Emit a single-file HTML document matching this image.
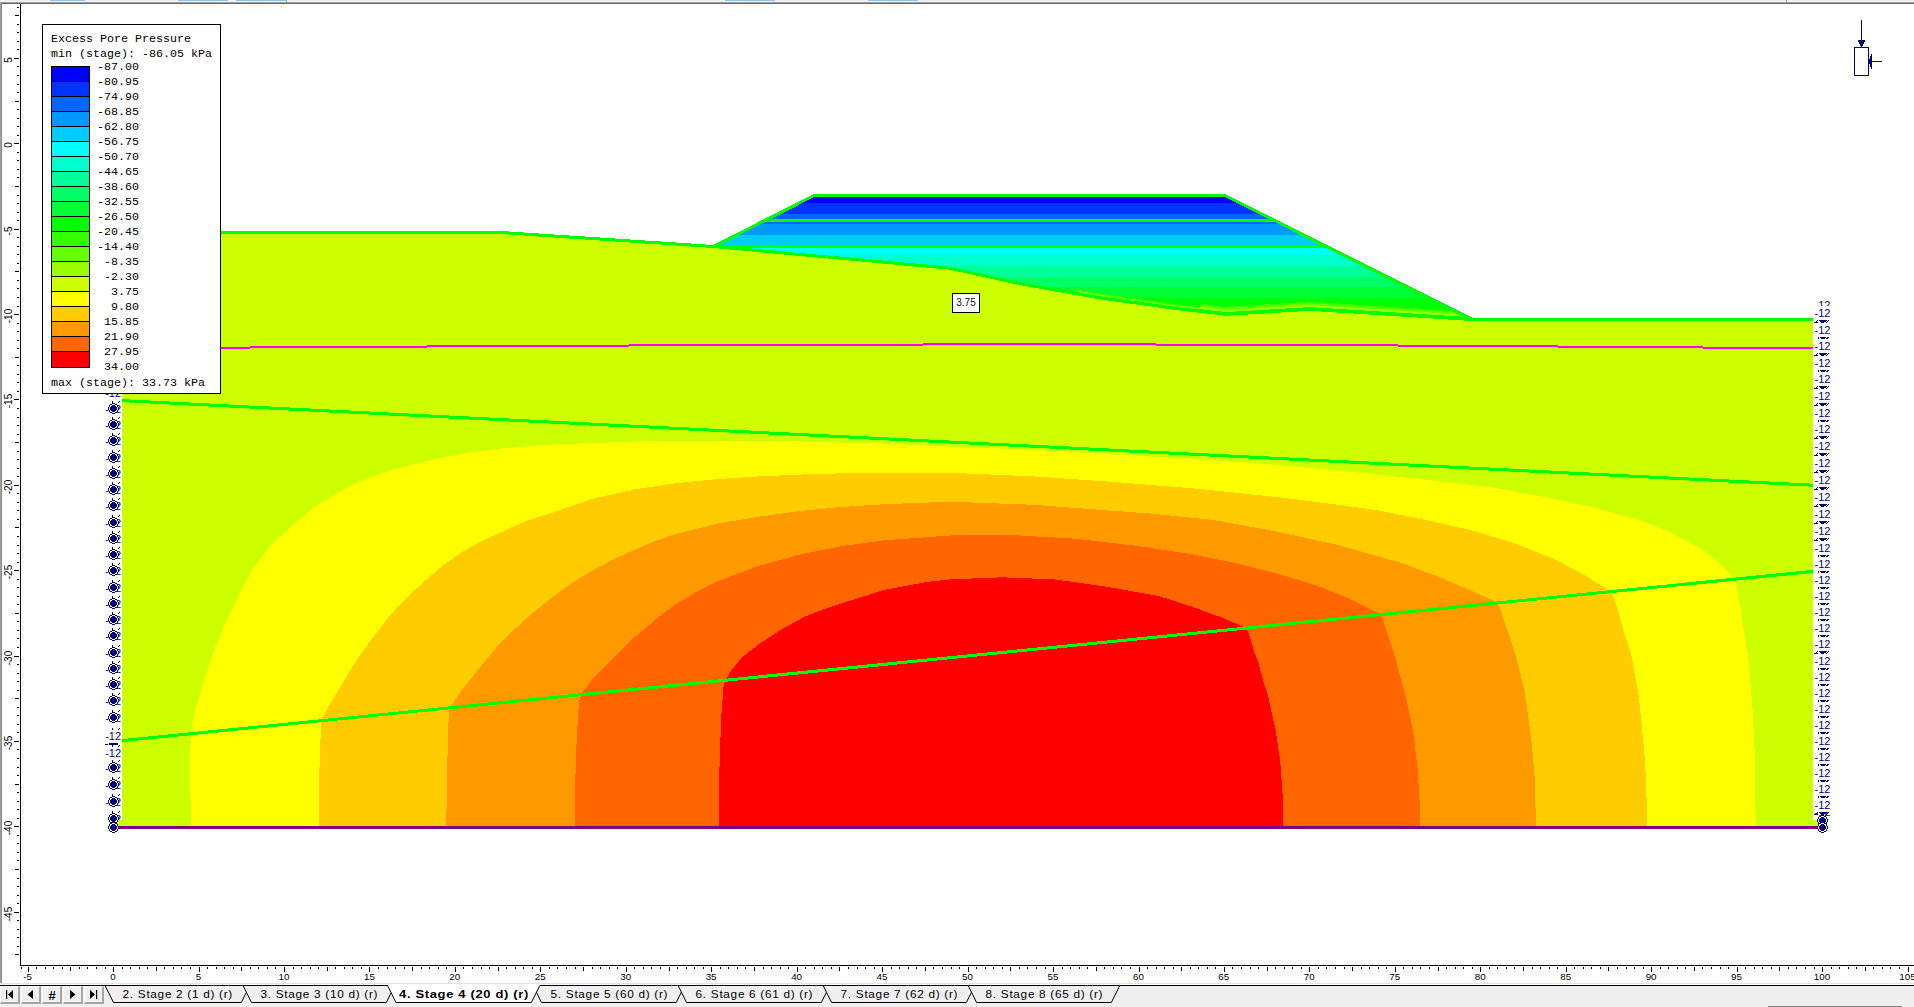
<!DOCTYPE html>
<html><head><meta charset="utf-8"><title>Excess Pore Pressure</title>
<style>
html,body{margin:0;padding:0;background:#fff;}
body{width:1914px;height:1007px;position:relative;overflow:hidden;font-family:"Liberation Sans",sans-serif;}
.abs{position:absolute}
#legend{position:absolute;left:42px;top:24px;width:177px;height:368px;border:1px solid #000;background:#fff;font-family:"Liberation Mono",monospace;font-size:11.67px;color:#000;line-height:13px;white-space:pre}
#legend .lt{position:absolute;left:8px}
#legend .sw{position:absolute;left:8px;width:37px;height:14px;border:1px solid #000;}
#legend .lv{position:absolute;left:47px;width:49px;text-align:right}
.hl{position:absolute;top:970.9px;width:40px;text-align:center;font-size:9.8px;line-height:12px;color:#000}
.vl{position:absolute;left:-11.5px;width:40px;height:40px;line-height:40px;text-align:center;font-size:10px;color:#000;transform:rotate(-90deg);}
.bl{position:absolute;font-size:11px;line-height:13px;height:13px;color:#000080;white-space:pre}
.blb{position:absolute;font-size:11px;line-height:14.4px;height:14px;width:22px;color:#000080;background:#fff;white-space:pre;padding-left:1.5px;box-sizing:border-box}
.tt{position:absolute;top:986.8px;height:15px;line-height:15px;font-size:11.8px;color:#000;white-space:pre;text-align:center;letter-spacing:0.7px}
.tt.b{font-weight:bold;letter-spacing:0.6px;text-align:left}
.tt.b span{display:inline-block;transform:scaleX(1.1);transform-origin:0 50%}
.nb{position:absolute;top:986px;width:17px;height:15px;background:#f0f0f0;border-top:1px solid #fff;border-left:1px solid #fff;border-right:2px solid #a6a6a6;border-bottom:2px solid #a6a6a6;box-sizing:content-box}
.hash{position:absolute;left:42px;top:987px;width:20px;height:18px;line-height:18px;text-align:center;font-weight:bold;font-size:13px;color:#000}
</style></head><body>
<div class="abs" style="left:0;top:0;width:1914px;height:2px;background:#f0f0f0"></div>
<div class="abs" style="left:50px;top:0;width:35px;height:1px;background:#8cc4f0"></div>
<div class="abs" style="left:178px;top:0;width:50px;height:1px;background:#8cc4f0"></div>
<div class="abs" style="left:236px;top:0;width:50px;height:1px;background:#8cc4f0"></div>
<div class="abs" style="left:725px;top:0;width:50px;height:1px;background:#8cc4f0"></div>
<div class="abs" style="left:868px;top:0;width:50px;height:1px;background:#8cc4f0"></div>
<div class="abs" style="left:286px;top:0;width:1px;height:2px;background:#a0a0a0"></div>
<div class="abs" style="left:1786px;top:0;width:1px;height:2px;background:#a0a0a0"></div>
<div class="abs" style="left:0;top:2px;width:1914px;height:1px;background:#a0a0a0"></div>
<div class="abs" style="left:0;top:3px;width:1914px;height:1px;background:#696969"></div>
<div class="abs" style="left:0;top:2px;width:1px;height:981px;background:#a0a0a0"></div>
<div class="abs" style="left:1px;top:3px;width:1px;height:980px;background:#8a8a8a"></div>
<svg id="model" width="1914" height="1007" viewBox="0 0 1914 1007" shape-rendering="crispEdges" style="position:absolute;left:0;top:0">
<defs>
<clipPath id="cemb"><polygon points="713.6,246.5 814.9,195.0 1224.0,195.0 1472.5,319.5 1309.5,309.3 1226.0,314.3 1175.0,308.4 1096.7,297.4 1018.4,283.3 950.0,268.2"/></clipPath>
<clipPath id="cfound"><polygon points="113.4,232.3 498.0,232.3 713.6,246.5 950.0,268.2 1018.4,283.3 1096.7,297.4 1175.0,308.4 1226.0,314.3 1309.5,309.3 1472.5,319.5 1822.5,319.5 1822.5,826.5 113.4,826.5"/></clipPath>
</defs>
<polygon points="113.4,232.3 498.0,232.3 713.6,246.5 950.0,268.2 1018.4,283.3 1096.7,297.4 1175.0,308.4 1226.0,314.3 1309.5,309.3 1472.5,319.5 1822.5,319.5 1822.5,826.5 113.4,826.5" fill="#ccff00"/>
<g clip-path="url(#cfound)">
<polygon points="190.8,826.5 190.3,780.0 190.6,731.9 196.1,707.8 204.9,677.0 215.8,646.3 224.0,626.0 233.6,605.5 244.0,584.6 254.5,566.5 271.2,545.0 296.3,522.0 317.2,505.2 338.1,492.7 359.0,482.2 379.9,473.9 400.8,467.6 421.7,462.4 442.6,457.4 463.5,453.6 484.4,450.5 505.3,448.2 526.2,446.3 550.0,444.6 633.6,441.5 717.2,440.9 800.8,441.5 884.4,443.6 950.0,446.5 1033.6,449.9 1117.2,454.7 1200.8,459.3 1284.4,465.5 1350.0,471.8 1430.0,480.2 1492.7,487.5 1555.4,499.0 1597.2,508.4 1639.0,519.9 1670.3,532.4 1701.7,549.1 1722.6,565.8 1733.0,577.3 1736.2,584.7 1740.3,607.6 1743.0,625.0 1748.8,660.8 1752.9,714.0 1755.1,761.0 1755.7,826.5" fill="#ffff00"/>
<polygon points="319.0,826.5 319.4,770.0 321.2,719.8 327.7,707.8 341.0,685.8 354.0,663.9 369.4,642.0 378.8,630.0 390.3,615.0 405.0,599.3 421.7,583.6 442.6,565.8 463.5,551.2 484.4,539.7 505.3,530.3 526.2,520.9 550.0,513.4 591.8,499.0 633.6,489.6 675.4,483.3 717.2,479.1 759.0,476.4 800.8,474.5 842.6,473.3 884.4,472.8 950.0,472.8 1033.6,476.4 1117.2,482.2 1200.8,489.1 1284.4,497.9 1350.0,506.3 1379.9,510.6 1430.0,520.9 1471.8,530.3 1513.6,542.9 1555.4,559.6 1586.7,576.3 1609.7,590.9 1613.9,597.2 1620.2,618.1 1623.3,630.0 1631.3,654.5 1639.1,698.4 1643.8,745.4 1646.3,783.0 1646.9,826.5" fill="#ffcc00"/>
<polygon points="446.2,826.5 448.0,729.7 449.5,707.8 452.8,703.5 461.6,690.2 479.2,668.3 501.0,642.0 513.6,630.0 530.4,615.0 550.0,598.9 570.9,583.6 591.8,571.1 612.7,559.6 633.6,550.2 654.5,541.4 675.4,534.1 717.2,523.6 759.0,516.7 800.8,510.9 842.6,506.9 884.4,504.2 950.0,501.7 1033.6,504.8 1117.2,511.1 1150.0,513.5 1212.7,519.9 1275.4,531.3 1338.0,545.0 1400.8,562.7 1442.6,578.4 1474.0,592.0 1497.0,602.4 1501.0,610.8 1505.2,624.4 1509.5,635.8 1515.3,654.5 1518.8,667.2 1524.7,692.1 1531.0,736.0 1534.7,776.7 1536.0,826.5" fill="#ff9900"/>
<polygon points="575.0,826.5 575.2,782.7 576.8,737.0 579.1,700.5 582.5,692.5 591.7,680.0 610.0,661.7 632.8,638.8 655.6,619.4 675.4,604.5 696.3,592.0 717.2,581.5 759.0,565.8 800.8,554.3 842.6,546.0 884.4,540.3 950.0,535.5 1012.7,535.1 1075.4,538.7 1138.0,546.0 1191.8,554.3 1233.6,562.7 1275.4,573.1 1317.2,585.7 1348.5,598.2 1377.8,612.9 1382.0,618.0 1390.3,642.0 1396.1,660.8 1398.7,671.4 1405.5,695.2 1413.4,732.9 1417.5,767.3 1419.7,801.8 1420.0,826.5" fill="#ff6600"/>
<polygon points="718.9,826.5 719.6,759.9 721.4,714.2 723.7,684.5 726.4,678.8 731.0,670.8 742.4,657.0 758.4,644.5 781.3,629.7 804.0,617.0 827.0,608.0 850.0,600.7 884.4,589.9 926.2,582.1 950.0,579.4 1002.2,577.3 1054.5,579.4 1106.7,586.7 1159.0,596.1 1191.8,606.6 1223.0,618.0 1244.0,627.0 1248.2,631.5 1254.5,652.6 1258.2,662.0 1262.9,679.7 1267.6,694.0 1275.5,729.7 1280.2,761.0 1282.7,795.5 1283.3,826.5" fill="#ff0000"/>
</g>
<g clip-path="url(#cemb)">
<rect x="700" y="190" width="800" height="140" fill="#00ff00"/>
<rect x="700" y="196" width="800" height="7.0" fill="#0000ff"/>
<rect x="700" y="203" width="800" height="10.7" fill="#0033ff"/>
<rect x="700" y="213.7" width="800" height="8.3" fill="#0066ff"/>
<rect x="700" y="222" width="800" height="2.3" fill="#0066ff"/>
<rect x="700" y="224.3" width="800" height="10.4" fill="#0099ff"/>
<rect x="700" y="234.7" width="800" height="13.3" fill="#00ccff"/>
<rect x="700" y="248" width="800" height="6.6" fill="#00ffff"/>
<rect x="700" y="254.6" width="800" height="85.4" fill="#00ffcc"/>
<rect x="700" y="266.0" width="800" height="74.0" fill="#00ff99"/>
<rect x="700" y="276.6" width="800" height="63.4" fill="#00ff66"/>
<rect x="700" y="287.4" width="800" height="52.6" fill="#00ff33"/>
<rect x="700" y="297.6" width="800" height="42.4" fill="#00ff00"/>
<clipPath id="cglow1"><rect x="1075" y="240" width="125" height="100"/></clipPath>
<clipPath id="cglow2"><rect x="1200" y="240" width="300" height="100"/></clipPath>
<g clip-path="url(#cglow1)">
<polyline points="713.6,242.9 950.0,264.6 1018.4,279.7 1096.7,293.8 1175.0,304.8 1226.0,310.7 1309.5,305.7 1472.5,315.9" fill="none" stroke="#33ff00" stroke-width="1.5"/>
<polyline points="713.6,244.1 950.0,265.8 1018.4,280.9 1096.7,295.0 1175.0,306.0 1226.0,311.9 1309.5,306.9 1472.5,317.1" fill="none" stroke="#66ff00" stroke-width="1.5"/>
</g>
<g clip-path="url(#cglow2)">
<polyline points="713.6,239.9 950.0,261.6 1018.4,276.7 1096.7,290.8 1175.0,301.8 1226.0,307.7 1309.5,302.7 1472.5,312.9" fill="none" stroke="#33ff00" stroke-width="2"/>
<polyline points="713.6,241.5 950.0,263.2 1018.4,278.3 1096.7,292.4 1175.0,303.4 1226.0,309.3 1309.5,304.3 1472.5,314.5" fill="none" stroke="#66ff00" stroke-width="2"/>
<polyline points="713.6,243.3 950.0,265.0 1018.4,280.1 1096.7,294.2 1175.0,305.2 1226.0,311.1 1309.5,306.1 1472.5,316.3" fill="none" stroke="#99ff00" stroke-width="2"/>
</g>
</g>
<polyline points="113.4,232.3 498.0,232.3 713.6,246.5 950.0,268.2 1018.4,283.3 1096.7,297.4 1175.0,308.4 1226.0,314.3 1309.5,309.3 1472.5,319.5 1822.5,319.5" fill="none" stroke="#00ff00" stroke-width="3" />
<polyline points="713.6,246.5 814.9,195.0 1224.0,195.0 1472.5,319.5" fill="none" stroke="#00ff00" stroke-width="3" />
<polyline points="764.7,220.5 1274.9,220.5" fill="none" stroke="#00ff00" stroke-width="3" />
<polyline points="715.6,246.5 1326.8,246.5" fill="none" stroke="#00ff00" stroke-width="3" />
<polyline points="113.4,400.2 1822.5,485.7" fill="none" stroke="#00ff00" stroke-width="3" />
<polyline points="113.4,741.5 1822.5,570.4" fill="none" stroke="#00ff00" stroke-width="3" />
<rect x="113" y="347" width="137" height="2" fill="#ff00ff"/>
<rect x="250" y="346" width="177" height="2" fill="#ff00ff"/>
<rect x="427" y="345" width="202" height="2" fill="#ff00ff"/>
<rect x="629" y="344" width="294" height="2" fill="#ff00ff"/>
<rect x="923" y="343" width="233" height="2" fill="#ff00ff"/>
<rect x="1156" y="344" width="242" height="2" fill="#ff00ff"/>
<rect x="1398" y="345" width="160" height="2" fill="#ff00ff"/>
<rect x="1558" y="346" width="145" height="2" fill="#ff00ff"/>
<rect x="1703" y="347" width="120" height="2" fill="#ff00ff"/>
<rect x="113" y="826" width="1709" height="3" fill="#800080"/>
</svg>
<svg id="rulers" width="1914" height="1007" viewBox="0 0 1914 1007" shape-rendering="crispEdges" style="position:absolute;left:0;top:0">
<rect x="20" y="4" width="1" height="962" fill="#000"/>
<rect x="20" y="965" width="1894" height="1" fill="#000"/>
<rect x="17" y="7" width="2" height="1" fill="#000"/>
<rect x="15" y="15" width="4" height="1" fill="#000"/>
<rect x="17" y="24" width="2" height="1" fill="#000"/>
<rect x="17" y="32" width="2" height="1" fill="#000"/>
<rect x="17" y="41" width="2" height="1" fill="#000"/>
<rect x="17" y="49" width="2" height="1" fill="#000"/>
<rect x="14" y="58" width="5" height="1" fill="#000"/>
<rect x="17" y="66" width="2" height="1" fill="#000"/>
<rect x="17" y="75" width="2" height="1" fill="#000"/>
<rect x="17" y="84" width="2" height="1" fill="#000"/>
<rect x="17" y="92" width="2" height="1" fill="#000"/>
<rect x="15" y="101" width="4" height="1" fill="#000"/>
<rect x="17" y="109" width="2" height="1" fill="#000"/>
<rect x="17" y="118" width="2" height="1" fill="#000"/>
<rect x="17" y="126" width="2" height="1" fill="#000"/>
<rect x="17" y="135" width="2" height="1" fill="#000"/>
<rect x="14" y="143" width="5" height="1" fill="#000"/>
<rect x="17" y="152" width="2" height="1" fill="#000"/>
<rect x="17" y="160" width="2" height="1" fill="#000"/>
<rect x="17" y="169" width="2" height="1" fill="#000"/>
<rect x="17" y="177" width="2" height="1" fill="#000"/>
<rect x="15" y="186" width="4" height="1" fill="#000"/>
<rect x="17" y="195" width="2" height="1" fill="#000"/>
<rect x="17" y="203" width="2" height="1" fill="#000"/>
<rect x="17" y="212" width="2" height="1" fill="#000"/>
<rect x="17" y="220" width="2" height="1" fill="#000"/>
<rect x="14" y="229" width="5" height="1" fill="#000"/>
<rect x="17" y="237" width="2" height="1" fill="#000"/>
<rect x="17" y="246" width="2" height="1" fill="#000"/>
<rect x="17" y="254" width="2" height="1" fill="#000"/>
<rect x="17" y="263" width="2" height="1" fill="#000"/>
<rect x="15" y="271" width="4" height="1" fill="#000"/>
<rect x="17" y="280" width="2" height="1" fill="#000"/>
<rect x="17" y="288" width="2" height="1" fill="#000"/>
<rect x="17" y="297" width="2" height="1" fill="#000"/>
<rect x="17" y="306" width="2" height="1" fill="#000"/>
<rect x="14" y="314" width="5" height="1" fill="#000"/>
<rect x="17" y="323" width="2" height="1" fill="#000"/>
<rect x="17" y="331" width="2" height="1" fill="#000"/>
<rect x="17" y="340" width="2" height="1" fill="#000"/>
<rect x="17" y="348" width="2" height="1" fill="#000"/>
<rect x="15" y="357" width="4" height="1" fill="#000"/>
<rect x="17" y="365" width="2" height="1" fill="#000"/>
<rect x="17" y="374" width="2" height="1" fill="#000"/>
<rect x="17" y="382" width="2" height="1" fill="#000"/>
<rect x="17" y="391" width="2" height="1" fill="#000"/>
<rect x="14" y="399" width="5" height="1" fill="#000"/>
<rect x="17" y="408" width="2" height="1" fill="#000"/>
<rect x="17" y="417" width="2" height="1" fill="#000"/>
<rect x="17" y="425" width="2" height="1" fill="#000"/>
<rect x="17" y="434" width="2" height="1" fill="#000"/>
<rect x="15" y="442" width="4" height="1" fill="#000"/>
<rect x="17" y="451" width="2" height="1" fill="#000"/>
<rect x="17" y="459" width="2" height="1" fill="#000"/>
<rect x="17" y="468" width="2" height="1" fill="#000"/>
<rect x="17" y="476" width="2" height="1" fill="#000"/>
<rect x="14" y="485" width="5" height="1" fill="#000"/>
<rect x="17" y="493" width="2" height="1" fill="#000"/>
<rect x="17" y="502" width="2" height="1" fill="#000"/>
<rect x="17" y="510" width="2" height="1" fill="#000"/>
<rect x="17" y="519" width="2" height="1" fill="#000"/>
<rect x="15" y="527" width="4" height="1" fill="#000"/>
<rect x="17" y="536" width="2" height="1" fill="#000"/>
<rect x="17" y="545" width="2" height="1" fill="#000"/>
<rect x="17" y="553" width="2" height="1" fill="#000"/>
<rect x="17" y="562" width="2" height="1" fill="#000"/>
<rect x="14" y="570" width="5" height="1" fill="#000"/>
<rect x="17" y="579" width="2" height="1" fill="#000"/>
<rect x="17" y="587" width="2" height="1" fill="#000"/>
<rect x="17" y="596" width="2" height="1" fill="#000"/>
<rect x="17" y="604" width="2" height="1" fill="#000"/>
<rect x="15" y="613" width="4" height="1" fill="#000"/>
<rect x="17" y="621" width="2" height="1" fill="#000"/>
<rect x="17" y="630" width="2" height="1" fill="#000"/>
<rect x="17" y="638" width="2" height="1" fill="#000"/>
<rect x="17" y="647" width="2" height="1" fill="#000"/>
<rect x="14" y="656" width="5" height="1" fill="#000"/>
<rect x="17" y="664" width="2" height="1" fill="#000"/>
<rect x="17" y="673" width="2" height="1" fill="#000"/>
<rect x="17" y="681" width="2" height="1" fill="#000"/>
<rect x="17" y="690" width="2" height="1" fill="#000"/>
<rect x="15" y="698" width="4" height="1" fill="#000"/>
<rect x="17" y="707" width="2" height="1" fill="#000"/>
<rect x="17" y="715" width="2" height="1" fill="#000"/>
<rect x="17" y="724" width="2" height="1" fill="#000"/>
<rect x="17" y="732" width="2" height="1" fill="#000"/>
<rect x="14" y="741" width="5" height="1" fill="#000"/>
<rect x="17" y="749" width="2" height="1" fill="#000"/>
<rect x="17" y="758" width="2" height="1" fill="#000"/>
<rect x="17" y="767" width="2" height="1" fill="#000"/>
<rect x="17" y="775" width="2" height="1" fill="#000"/>
<rect x="15" y="784" width="4" height="1" fill="#000"/>
<rect x="17" y="792" width="2" height="1" fill="#000"/>
<rect x="17" y="801" width="2" height="1" fill="#000"/>
<rect x="17" y="809" width="2" height="1" fill="#000"/>
<rect x="17" y="818" width="2" height="1" fill="#000"/>
<rect x="14" y="826" width="5" height="1" fill="#000"/>
<rect x="17" y="835" width="2" height="1" fill="#000"/>
<rect x="17" y="843" width="2" height="1" fill="#000"/>
<rect x="17" y="852" width="2" height="1" fill="#000"/>
<rect x="17" y="860" width="2" height="1" fill="#000"/>
<rect x="15" y="869" width="4" height="1" fill="#000"/>
<rect x="17" y="878" width="2" height="1" fill="#000"/>
<rect x="17" y="886" width="2" height="1" fill="#000"/>
<rect x="17" y="895" width="2" height="1" fill="#000"/>
<rect x="17" y="903" width="2" height="1" fill="#000"/>
<rect x="14" y="912" width="5" height="1" fill="#000"/>
<rect x="17" y="920" width="2" height="1" fill="#000"/>
<rect x="17" y="929" width="2" height="1" fill="#000"/>
<rect x="17" y="937" width="2" height="1" fill="#000"/>
<rect x="17" y="946" width="2" height="1" fill="#000"/>
<rect x="15" y="954" width="4" height="1" fill="#000"/>
<rect x="28" y="967" width="1" height="5" fill="#000"/>
<rect x="36" y="967" width="1" height="2" fill="#000"/>
<rect x="45" y="967" width="1" height="2" fill="#000"/>
<rect x="53" y="967" width="1" height="2" fill="#000"/>
<rect x="62" y="967" width="1" height="2" fill="#000"/>
<rect x="70" y="967" width="1" height="4" fill="#000"/>
<rect x="79" y="967" width="1" height="2" fill="#000"/>
<rect x="87" y="967" width="1" height="2" fill="#000"/>
<rect x="96" y="967" width="1" height="2" fill="#000"/>
<rect x="105" y="967" width="1" height="2" fill="#000"/>
<rect x="113" y="967" width="1" height="5" fill="#000"/>
<rect x="122" y="967" width="1" height="2" fill="#000"/>
<rect x="130" y="967" width="1" height="2" fill="#000"/>
<rect x="139" y="967" width="1" height="2" fill="#000"/>
<rect x="147" y="967" width="1" height="2" fill="#000"/>
<rect x="156" y="967" width="1" height="4" fill="#000"/>
<rect x="164" y="967" width="1" height="2" fill="#000"/>
<rect x="173" y="967" width="1" height="2" fill="#000"/>
<rect x="181" y="967" width="1" height="2" fill="#000"/>
<rect x="190" y="967" width="1" height="2" fill="#000"/>
<rect x="199" y="967" width="1" height="5" fill="#000"/>
<rect x="207" y="967" width="1" height="2" fill="#000"/>
<rect x="216" y="967" width="1" height="2" fill="#000"/>
<rect x="224" y="967" width="1" height="2" fill="#000"/>
<rect x="233" y="967" width="1" height="2" fill="#000"/>
<rect x="241" y="967" width="1" height="4" fill="#000"/>
<rect x="250" y="967" width="1" height="2" fill="#000"/>
<rect x="258" y="967" width="1" height="2" fill="#000"/>
<rect x="267" y="967" width="1" height="2" fill="#000"/>
<rect x="275" y="967" width="1" height="2" fill="#000"/>
<rect x="284" y="967" width="1" height="5" fill="#000"/>
<rect x="293" y="967" width="1" height="2" fill="#000"/>
<rect x="301" y="967" width="1" height="2" fill="#000"/>
<rect x="310" y="967" width="1" height="2" fill="#000"/>
<rect x="318" y="967" width="1" height="2" fill="#000"/>
<rect x="327" y="967" width="1" height="4" fill="#000"/>
<rect x="335" y="967" width="1" height="2" fill="#000"/>
<rect x="344" y="967" width="1" height="2" fill="#000"/>
<rect x="352" y="967" width="1" height="2" fill="#000"/>
<rect x="361" y="967" width="1" height="2" fill="#000"/>
<rect x="369" y="967" width="1" height="5" fill="#000"/>
<rect x="378" y="967" width="1" height="2" fill="#000"/>
<rect x="387" y="967" width="1" height="2" fill="#000"/>
<rect x="395" y="967" width="1" height="2" fill="#000"/>
<rect x="404" y="967" width="1" height="2" fill="#000"/>
<rect x="412" y="967" width="1" height="4" fill="#000"/>
<rect x="421" y="967" width="1" height="2" fill="#000"/>
<rect x="429" y="967" width="1" height="2" fill="#000"/>
<rect x="438" y="967" width="1" height="2" fill="#000"/>
<rect x="446" y="967" width="1" height="2" fill="#000"/>
<rect x="455" y="967" width="1" height="5" fill="#000"/>
<rect x="463" y="967" width="1" height="2" fill="#000"/>
<rect x="472" y="967" width="1" height="2" fill="#000"/>
<rect x="481" y="967" width="1" height="2" fill="#000"/>
<rect x="489" y="967" width="1" height="2" fill="#000"/>
<rect x="498" y="967" width="1" height="4" fill="#000"/>
<rect x="506" y="967" width="1" height="2" fill="#000"/>
<rect x="515" y="967" width="1" height="2" fill="#000"/>
<rect x="523" y="967" width="1" height="2" fill="#000"/>
<rect x="532" y="967" width="1" height="2" fill="#000"/>
<rect x="540" y="967" width="1" height="5" fill="#000"/>
<rect x="549" y="967" width="1" height="2" fill="#000"/>
<rect x="557" y="967" width="1" height="2" fill="#000"/>
<rect x="566" y="967" width="1" height="2" fill="#000"/>
<rect x="575" y="967" width="1" height="2" fill="#000"/>
<rect x="583" y="967" width="1" height="4" fill="#000"/>
<rect x="592" y="967" width="1" height="2" fill="#000"/>
<rect x="600" y="967" width="1" height="2" fill="#000"/>
<rect x="609" y="967" width="1" height="2" fill="#000"/>
<rect x="617" y="967" width="1" height="2" fill="#000"/>
<rect x="626" y="967" width="1" height="5" fill="#000"/>
<rect x="634" y="967" width="1" height="2" fill="#000"/>
<rect x="643" y="967" width="1" height="2" fill="#000"/>
<rect x="651" y="967" width="1" height="2" fill="#000"/>
<rect x="660" y="967" width="1" height="2" fill="#000"/>
<rect x="669" y="967" width="1" height="4" fill="#000"/>
<rect x="677" y="967" width="1" height="2" fill="#000"/>
<rect x="686" y="967" width="1" height="2" fill="#000"/>
<rect x="694" y="967" width="1" height="2" fill="#000"/>
<rect x="703" y="967" width="1" height="2" fill="#000"/>
<rect x="711" y="967" width="1" height="5" fill="#000"/>
<rect x="720" y="967" width="1" height="2" fill="#000"/>
<rect x="728" y="967" width="1" height="2" fill="#000"/>
<rect x="737" y="967" width="1" height="2" fill="#000"/>
<rect x="745" y="967" width="1" height="2" fill="#000"/>
<rect x="754" y="967" width="1" height="4" fill="#000"/>
<rect x="763" y="967" width="1" height="2" fill="#000"/>
<rect x="771" y="967" width="1" height="2" fill="#000"/>
<rect x="780" y="967" width="1" height="2" fill="#000"/>
<rect x="788" y="967" width="1" height="2" fill="#000"/>
<rect x="797" y="967" width="1" height="5" fill="#000"/>
<rect x="805" y="967" width="1" height="2" fill="#000"/>
<rect x="814" y="967" width="1" height="2" fill="#000"/>
<rect x="822" y="967" width="1" height="2" fill="#000"/>
<rect x="831" y="967" width="1" height="2" fill="#000"/>
<rect x="839" y="967" width="1" height="4" fill="#000"/>
<rect x="848" y="967" width="1" height="2" fill="#000"/>
<rect x="857" y="967" width="1" height="2" fill="#000"/>
<rect x="865" y="967" width="1" height="2" fill="#000"/>
<rect x="874" y="967" width="1" height="2" fill="#000"/>
<rect x="882" y="967" width="1" height="5" fill="#000"/>
<rect x="891" y="967" width="1" height="2" fill="#000"/>
<rect x="899" y="967" width="1" height="2" fill="#000"/>
<rect x="908" y="967" width="1" height="2" fill="#000"/>
<rect x="916" y="967" width="1" height="2" fill="#000"/>
<rect x="925" y="967" width="1" height="4" fill="#000"/>
<rect x="933" y="967" width="1" height="2" fill="#000"/>
<rect x="942" y="967" width="1" height="2" fill="#000"/>
<rect x="951" y="967" width="1" height="2" fill="#000"/>
<rect x="959" y="967" width="1" height="2" fill="#000"/>
<rect x="968" y="967" width="1" height="5" fill="#000"/>
<rect x="976" y="967" width="1" height="2" fill="#000"/>
<rect x="985" y="967" width="1" height="2" fill="#000"/>
<rect x="993" y="967" width="1" height="2" fill="#000"/>
<rect x="1002" y="967" width="1" height="2" fill="#000"/>
<rect x="1010" y="967" width="1" height="4" fill="#000"/>
<rect x="1019" y="967" width="1" height="2" fill="#000"/>
<rect x="1027" y="967" width="1" height="2" fill="#000"/>
<rect x="1036" y="967" width="1" height="2" fill="#000"/>
<rect x="1045" y="967" width="1" height="2" fill="#000"/>
<rect x="1053" y="967" width="1" height="5" fill="#000"/>
<rect x="1062" y="967" width="1" height="2" fill="#000"/>
<rect x="1070" y="967" width="1" height="2" fill="#000"/>
<rect x="1079" y="967" width="1" height="2" fill="#000"/>
<rect x="1087" y="967" width="1" height="2" fill="#000"/>
<rect x="1096" y="967" width="1" height="4" fill="#000"/>
<rect x="1104" y="967" width="1" height="2" fill="#000"/>
<rect x="1113" y="967" width="1" height="2" fill="#000"/>
<rect x="1121" y="967" width="1" height="2" fill="#000"/>
<rect x="1130" y="967" width="1" height="2" fill="#000"/>
<rect x="1139" y="967" width="1" height="5" fill="#000"/>
<rect x="1147" y="967" width="1" height="2" fill="#000"/>
<rect x="1156" y="967" width="1" height="2" fill="#000"/>
<rect x="1164" y="967" width="1" height="2" fill="#000"/>
<rect x="1173" y="967" width="1" height="2" fill="#000"/>
<rect x="1181" y="967" width="1" height="4" fill="#000"/>
<rect x="1190" y="967" width="1" height="2" fill="#000"/>
<rect x="1198" y="967" width="1" height="2" fill="#000"/>
<rect x="1207" y="967" width="1" height="2" fill="#000"/>
<rect x="1215" y="967" width="1" height="2" fill="#000"/>
<rect x="1224" y="967" width="1" height="5" fill="#000"/>
<rect x="1232" y="967" width="1" height="2" fill="#000"/>
<rect x="1241" y="967" width="1" height="2" fill="#000"/>
<rect x="1250" y="967" width="1" height="2" fill="#000"/>
<rect x="1258" y="967" width="1" height="2" fill="#000"/>
<rect x="1267" y="967" width="1" height="4" fill="#000"/>
<rect x="1275" y="967" width="1" height="2" fill="#000"/>
<rect x="1284" y="967" width="1" height="2" fill="#000"/>
<rect x="1292" y="967" width="1" height="2" fill="#000"/>
<rect x="1301" y="967" width="1" height="2" fill="#000"/>
<rect x="1309" y="967" width="1" height="5" fill="#000"/>
<rect x="1318" y="967" width="1" height="2" fill="#000"/>
<rect x="1326" y="967" width="1" height="2" fill="#000"/>
<rect x="1335" y="967" width="1" height="2" fill="#000"/>
<rect x="1344" y="967" width="1" height="2" fill="#000"/>
<rect x="1352" y="967" width="1" height="4" fill="#000"/>
<rect x="1361" y="967" width="1" height="2" fill="#000"/>
<rect x="1369" y="967" width="1" height="2" fill="#000"/>
<rect x="1378" y="967" width="1" height="2" fill="#000"/>
<rect x="1386" y="967" width="1" height="2" fill="#000"/>
<rect x="1395" y="967" width="1" height="5" fill="#000"/>
<rect x="1403" y="967" width="1" height="2" fill="#000"/>
<rect x="1412" y="967" width="1" height="2" fill="#000"/>
<rect x="1420" y="967" width="1" height="2" fill="#000"/>
<rect x="1429" y="967" width="1" height="2" fill="#000"/>
<rect x="1438" y="967" width="1" height="4" fill="#000"/>
<rect x="1446" y="967" width="1" height="2" fill="#000"/>
<rect x="1455" y="967" width="1" height="2" fill="#000"/>
<rect x="1463" y="967" width="1" height="2" fill="#000"/>
<rect x="1472" y="967" width="1" height="2" fill="#000"/>
<rect x="1480" y="967" width="1" height="5" fill="#000"/>
<rect x="1489" y="967" width="1" height="2" fill="#000"/>
<rect x="1497" y="967" width="1" height="2" fill="#000"/>
<rect x="1506" y="967" width="1" height="2" fill="#000"/>
<rect x="1514" y="967" width="1" height="2" fill="#000"/>
<rect x="1523" y="967" width="1" height="4" fill="#000"/>
<rect x="1532" y="967" width="1" height="2" fill="#000"/>
<rect x="1540" y="967" width="1" height="2" fill="#000"/>
<rect x="1549" y="967" width="1" height="2" fill="#000"/>
<rect x="1557" y="967" width="1" height="2" fill="#000"/>
<rect x="1566" y="967" width="1" height="5" fill="#000"/>
<rect x="1574" y="967" width="1" height="2" fill="#000"/>
<rect x="1583" y="967" width="1" height="2" fill="#000"/>
<rect x="1591" y="967" width="1" height="2" fill="#000"/>
<rect x="1600" y="967" width="1" height="2" fill="#000"/>
<rect x="1608" y="967" width="1" height="4" fill="#000"/>
<rect x="1617" y="967" width="1" height="2" fill="#000"/>
<rect x="1626" y="967" width="1" height="2" fill="#000"/>
<rect x="1634" y="967" width="1" height="2" fill="#000"/>
<rect x="1643" y="967" width="1" height="2" fill="#000"/>
<rect x="1651" y="967" width="1" height="5" fill="#000"/>
<rect x="1660" y="967" width="1" height="2" fill="#000"/>
<rect x="1668" y="967" width="1" height="2" fill="#000"/>
<rect x="1677" y="967" width="1" height="2" fill="#000"/>
<rect x="1685" y="967" width="1" height="2" fill="#000"/>
<rect x="1694" y="967" width="1" height="4" fill="#000"/>
<rect x="1702" y="967" width="1" height="2" fill="#000"/>
<rect x="1711" y="967" width="1" height="2" fill="#000"/>
<rect x="1720" y="967" width="1" height="2" fill="#000"/>
<rect x="1728" y="967" width="1" height="2" fill="#000"/>
<rect x="1737" y="967" width="1" height="5" fill="#000"/>
<rect x="1745" y="967" width="1" height="2" fill="#000"/>
<rect x="1754" y="967" width="1" height="2" fill="#000"/>
<rect x="1762" y="967" width="1" height="2" fill="#000"/>
<rect x="1771" y="967" width="1" height="2" fill="#000"/>
<rect x="1779" y="967" width="1" height="4" fill="#000"/>
<rect x="1788" y="967" width="1" height="2" fill="#000"/>
<rect x="1796" y="967" width="1" height="2" fill="#000"/>
<rect x="1805" y="967" width="1" height="2" fill="#000"/>
<rect x="1814" y="967" width="1" height="2" fill="#000"/>
<rect x="1822" y="967" width="1" height="5" fill="#000"/>
<rect x="1831" y="967" width="1" height="2" fill="#000"/>
<rect x="1839" y="967" width="1" height="2" fill="#000"/>
<rect x="1848" y="967" width="1" height="2" fill="#000"/>
<rect x="1856" y="967" width="1" height="2" fill="#000"/>
<rect x="1865" y="967" width="1" height="4" fill="#000"/>
<rect x="1873" y="967" width="1" height="2" fill="#000"/>
<rect x="1882" y="967" width="1" height="2" fill="#000"/>
<rect x="1890" y="967" width="1" height="2" fill="#000"/>
<rect x="1899" y="967" width="1" height="2" fill="#000"/>
<rect x="1908" y="967" width="1" height="5" fill="#000"/>
<rect x="21" y="967" width="1" height="2" fill="#000"/>
</svg>
<div class="hl" style="left:7.5px">-5</div>
<div class="hl" style="left:93.0px">0</div>
<div class="hl" style="left:178.5px">5</div>
<div class="hl" style="left:263.9px">10</div>
<div class="hl" style="left:349.4px">15</div>
<div class="hl" style="left:434.8px">20</div>
<div class="hl" style="left:520.2px">25</div>
<div class="hl" style="left:605.7px">30</div>
<div class="hl" style="left:691.1px">35</div>
<div class="hl" style="left:776.6px">40</div>
<div class="hl" style="left:862.0px">45</div>
<div class="hl" style="left:947.5px">50</div>
<div class="hl" style="left:1033.0px">55</div>
<div class="hl" style="left:1118.4px">60</div>
<div class="hl" style="left:1203.8px">65</div>
<div class="hl" style="left:1289.3px">70</div>
<div class="hl" style="left:1374.8px">75</div>
<div class="hl" style="left:1460.2px">80</div>
<div class="hl" style="left:1545.7px">85</div>
<div class="hl" style="left:1631.1px">90</div>
<div class="hl" style="left:1716.5px">95</div>
<div class="hl" style="left:1802.0px">100</div>
<div class="hl" style="left:1887.5px">105</div>
<div class="vl" style="top:39.9px">5</div>
<div class="vl" style="top:125.3px">0</div>
<div class="vl" style="top:210.7px">-5</div>
<div class="vl" style="top:296.1px">-10</div>
<div class="vl" style="top:381.4px">-15</div>
<div class="vl" style="top:466.8px">-20</div>
<div class="vl" style="top:552.2px">-25</div>
<div class="vl" style="top:637.5px">-30</div>
<div class="vl" style="top:722.9px">-35</div>
<div class="vl" style="top:808.3px">-40</div>
<div class="vl" style="top:893.7px">-45</div>
<div style="position:absolute;left:104px;top:393px;width:18px;height:427px;background:#fff"></div>
<div style="position:absolute;left:1813px;top:296px;width:22px;height:524px;background:#fff"></div>
<div style="position:absolute;left:104px;top:393px;width:18px;height:427px;overflow:hidden">
<div class="bl" style="left:1.2px;top:-6.0px">-12</div>
<div class="bl" style="left:1.2px;top:10.0px">-12</div>
<div class="bl" style="left:1.2px;top:26.0px">-12</div>
<div class="bl" style="left:1.2px;top:42.0px">-12</div>
<div class="bl" style="left:1.2px;top:59.0px">-12</div>
<div class="bl" style="left:1.2px;top:75.0px">-12</div>
<div class="bl" style="left:1.2px;top:91.0px">-12</div>
<div class="bl" style="left:1.2px;top:107.0px">-12</div>
<div class="bl" style="left:1.2px;top:124.0px">-12</div>
<div class="bl" style="left:1.2px;top:140.0px">-12</div>
<div class="bl" style="left:1.2px;top:156.0px">-12</div>
<div class="bl" style="left:1.2px;top:172.0px">-12</div>
<div class="bl" style="left:1.2px;top:189.0px">-12</div>
<div class="bl" style="left:1.2px;top:205.0px">-12</div>
<div class="bl" style="left:1.2px;top:221.0px">-12</div>
<div class="bl" style="left:1.2px;top:237.0px">-12</div>
<div class="bl" style="left:1.2px;top:254.0px">-12</div>
<div class="bl" style="left:1.2px;top:270.0px">-12</div>
<div class="bl" style="left:1.2px;top:286.0px">-12</div>
<div class="bl" style="left:1.2px;top:302.0px">-12</div>
<div class="bl" style="left:1.2px;top:319.0px">-12</div>
<div class="bl" style="left:1.2px;top:337.0px">-12</div>
<div class="bl" style="left:1.2px;top:354.0px">-12</div>
<div class="bl" style="left:1.2px;top:369.0px">-12</div>
<div class="bl" style="left:1.2px;top:386.0px">-12</div>
<div class="bl" style="left:1.2px;top:403.0px">-12</div>
<div class="bl" style="left:1.2px;top:420.0px">-12</div>
</div>
<div style="position:absolute;left:1813px;top:300px;width:22px;height:520px;overflow:hidden">
<div class="bl" style="left:1.5px;top:-1px">-12</div>
<div class="bl" style="left:1.5px;top:506px">-12</div>
<div class="blb" style="left:0;top:6px">-12</div>
<div class="blb" style="left:0;top:23px">-12</div>
<div class="blb" style="left:0;top:39px">-12</div>
<div class="blb" style="left:0;top:56px">-12</div>
<div class="blb" style="left:0;top:72px">-12</div>
<div class="blb" style="left:0;top:89px">-12</div>
<div class="blb" style="left:0;top:106px">-12</div>
<div class="blb" style="left:0;top:122px">-12</div>
<div class="blb" style="left:0;top:139px">-12</div>
<div class="blb" style="left:0;top:156px">-12</div>
<div class="blb" style="left:0;top:173px">-12</div>
<div class="blb" style="left:0;top:190px">-12</div>
<div class="blb" style="left:0;top:207px">-12</div>
<div class="blb" style="left:0;top:224px">-12</div>
<div class="blb" style="left:0;top:241px">-12</div>
<div class="blb" style="left:0;top:257px">-12</div>
<div class="blb" style="left:0;top:273px">-12</div>
<div class="blb" style="left:0;top:289px">-12</div>
<div class="blb" style="left:0;top:305px">-12</div>
<div class="blb" style="left:0;top:321px">-12</div>
<div class="blb" style="left:0;top:337px">-12</div>
<div class="blb" style="left:0;top:354px">-12</div>
<div class="blb" style="left:0;top:370px">-12</div>
<div class="blb" style="left:0;top:386px">-12</div>
<div class="blb" style="left:0;top:402px">-12</div>
<div class="blb" style="left:0;top:418px">-12</div>
<div class="blb" style="left:0;top:434px">-12</div>
<div class="blb" style="left:0;top:450px">-12</div>
<div class="blb" style="left:0;top:466px">-12</div>
<div class="blb" style="left:0;top:482px">-12</div>
<div class="blb" style="left:0;top:498px">-12</div>
</div>
<svg id="sym" width="1914" height="1007" viewBox="0 0 1914 1007" shape-rendering="crispEdges" style="position:absolute;left:0;top:0">
<rect x="112" y="401" width="1" height="2" fill="#000080"/><rect x="119" y="401" width="1" height="1" fill="#000080"/><rect x="118" y="402" width="1" height="1" fill="#000080"/>
<rect x="112" y="417" width="1" height="2" fill="#000080"/><rect x="119" y="417" width="1" height="1" fill="#000080"/><rect x="118" y="418" width="1" height="1" fill="#000080"/>
<rect x="112" y="433" width="1" height="2" fill="#000080"/><rect x="119" y="433" width="1" height="1" fill="#000080"/><rect x="118" y="434" width="1" height="1" fill="#000080"/>
<rect x="112" y="450" width="1" height="2" fill="#000080"/><rect x="119" y="450" width="1" height="1" fill="#000080"/><rect x="118" y="451" width="1" height="1" fill="#000080"/>
<rect x="112" y="466" width="1" height="2" fill="#000080"/><rect x="119" y="466" width="1" height="1" fill="#000080"/><rect x="118" y="467" width="1" height="1" fill="#000080"/>
<rect x="112" y="482" width="1" height="2" fill="#000080"/><rect x="119" y="482" width="1" height="1" fill="#000080"/><rect x="118" y="483" width="1" height="1" fill="#000080"/>
<rect x="112" y="498" width="1" height="2" fill="#000080"/><rect x="119" y="498" width="1" height="1" fill="#000080"/><rect x="118" y="499" width="1" height="1" fill="#000080"/>
<rect x="112" y="515" width="1" height="2" fill="#000080"/><rect x="119" y="515" width="1" height="1" fill="#000080"/><rect x="118" y="516" width="1" height="1" fill="#000080"/>
<rect x="112" y="531" width="1" height="2" fill="#000080"/><rect x="119" y="531" width="1" height="1" fill="#000080"/><rect x="118" y="532" width="1" height="1" fill="#000080"/>
<rect x="112" y="547" width="1" height="2" fill="#000080"/><rect x="119" y="547" width="1" height="1" fill="#000080"/><rect x="118" y="548" width="1" height="1" fill="#000080"/>
<rect x="112" y="563" width="1" height="2" fill="#000080"/><rect x="119" y="563" width="1" height="1" fill="#000080"/><rect x="118" y="564" width="1" height="1" fill="#000080"/>
<rect x="112" y="580" width="1" height="2" fill="#000080"/><rect x="119" y="580" width="1" height="1" fill="#000080"/><rect x="118" y="581" width="1" height="1" fill="#000080"/>
<rect x="112" y="596" width="1" height="2" fill="#000080"/><rect x="119" y="596" width="1" height="1" fill="#000080"/><rect x="118" y="597" width="1" height="1" fill="#000080"/>
<rect x="112" y="612" width="1" height="2" fill="#000080"/><rect x="119" y="612" width="1" height="1" fill="#000080"/><rect x="118" y="613" width="1" height="1" fill="#000080"/>
<rect x="112" y="628" width="1" height="2" fill="#000080"/><rect x="119" y="628" width="1" height="1" fill="#000080"/><rect x="118" y="629" width="1" height="1" fill="#000080"/>
<rect x="112" y="645" width="1" height="2" fill="#000080"/><rect x="119" y="645" width="1" height="1" fill="#000080"/><rect x="118" y="646" width="1" height="1" fill="#000080"/>
<rect x="112" y="661" width="1" height="2" fill="#000080"/><rect x="119" y="661" width="1" height="1" fill="#000080"/><rect x="118" y="662" width="1" height="1" fill="#000080"/>
<rect x="112" y="677" width="1" height="2" fill="#000080"/><rect x="119" y="677" width="1" height="1" fill="#000080"/><rect x="118" y="678" width="1" height="1" fill="#000080"/>
<rect x="112" y="693" width="1" height="2" fill="#000080"/><rect x="119" y="693" width="1" height="1" fill="#000080"/><rect x="118" y="694" width="1" height="1" fill="#000080"/>
<rect x="112" y="710" width="1" height="2" fill="#000080"/><rect x="119" y="710" width="1" height="1" fill="#000080"/><rect x="118" y="711" width="1" height="1" fill="#000080"/>
<rect x="112" y="728" width="1" height="2" fill="#000080"/><rect x="119" y="728" width="1" height="1" fill="#000080"/><rect x="118" y="729" width="1" height="1" fill="#000080"/>
<rect x="112" y="745" width="1" height="2" fill="#000080"/><rect x="119" y="745" width="1" height="1" fill="#000080"/><rect x="118" y="746" width="1" height="1" fill="#000080"/>
<rect x="112" y="760" width="1" height="2" fill="#000080"/><rect x="119" y="760" width="1" height="1" fill="#000080"/><rect x="118" y="761" width="1" height="1" fill="#000080"/>
<rect x="112" y="777" width="1" height="2" fill="#000080"/><rect x="119" y="777" width="1" height="1" fill="#000080"/><rect x="118" y="778" width="1" height="1" fill="#000080"/>
<rect x="112" y="794" width="1" height="2" fill="#000080"/><rect x="119" y="794" width="1" height="1" fill="#000080"/><rect x="118" y="795" width="1" height="1" fill="#000080"/>
<rect x="112" y="811" width="1" height="2" fill="#000080"/><rect x="119" y="811" width="1" height="1" fill="#000080"/><rect x="118" y="812" width="1" height="1" fill="#000080"/>
<rect x="105" y="744" width="3" height="1" fill="#000080"/><rect x="109" y="743" width="9" height="2" fill="#000080"/>
<path d="M112 403h3v1h2v1h1v2h1v3h-1v2h-1v1h-2v1h-3v-1h-2v-1h-1v-2h-1v-3h1v-2h1v-1h2z" fill="#fff"/>
<path d="M112 403h3v1h-3zM110 404h2v1h-2zM115 404h2v1h-2zM109 405h1v1h-1zM117 405h1v1h-1zM109 406h1v1h-1zM117 406h1v1h-1zM108 407h1v1h-1zM118 407h1v1h-1zM108 408h1v1h-1zM118 408h1v1h-1zM108 409h1v1h-1zM118 409h1v1h-1zM109 410h1v1h-1zM117 410h1v1h-1zM109 411h1v1h-1zM117 411h1v1h-1zM110 412h2v1h-2zM115 412h2v1h-2zM112 413h3v1h-3zM112 405h3v1h-3zM111 406h5v1h-5zM110 407h7v1h-7zM110 408h7v1h-7zM110 409h7v1h-7zM111 410h5v1h-5zM112 411h3v1h-3z" fill="#000080"/>
<path d="M112 419h3v1h2v1h1v2h1v3h-1v2h-1v1h-2v1h-3v-1h-2v-1h-1v-2h-1v-3h1v-2h1v-1h2z" fill="#fff"/>
<path d="M112 419h3v1h-3zM110 420h2v1h-2zM115 420h2v1h-2zM109 421h1v1h-1zM117 421h1v1h-1zM109 422h1v1h-1zM117 422h1v1h-1zM108 423h1v1h-1zM118 423h1v1h-1zM108 424h1v1h-1zM118 424h1v1h-1zM108 425h1v1h-1zM118 425h1v1h-1zM109 426h1v1h-1zM117 426h1v1h-1zM109 427h1v1h-1zM117 427h1v1h-1zM110 428h2v1h-2zM115 428h2v1h-2zM112 429h3v1h-3zM112 421h3v1h-3zM111 422h5v1h-5zM110 423h7v1h-7zM110 424h7v1h-7zM110 425h7v1h-7zM111 426h5v1h-5zM112 427h3v1h-3z" fill="#000080"/>
<path d="M112 435h3v1h2v1h1v2h1v3h-1v2h-1v1h-2v1h-3v-1h-2v-1h-1v-2h-1v-3h1v-2h1v-1h2z" fill="#fff"/>
<path d="M112 435h3v1h-3zM110 436h2v1h-2zM115 436h2v1h-2zM109 437h1v1h-1zM117 437h1v1h-1zM109 438h1v1h-1zM117 438h1v1h-1zM108 439h1v1h-1zM118 439h1v1h-1zM108 440h1v1h-1zM118 440h1v1h-1zM108 441h1v1h-1zM118 441h1v1h-1zM109 442h1v1h-1zM117 442h1v1h-1zM109 443h1v1h-1zM117 443h1v1h-1zM110 444h2v1h-2zM115 444h2v1h-2zM112 445h3v1h-3zM112 437h3v1h-3zM111 438h5v1h-5zM110 439h7v1h-7zM110 440h7v1h-7zM110 441h7v1h-7zM111 442h5v1h-5zM112 443h3v1h-3z" fill="#000080"/>
<path d="M112 452h3v1h2v1h1v2h1v3h-1v2h-1v1h-2v1h-3v-1h-2v-1h-1v-2h-1v-3h1v-2h1v-1h2z" fill="#fff"/>
<path d="M112 452h3v1h-3zM110 453h2v1h-2zM115 453h2v1h-2zM109 454h1v1h-1zM117 454h1v1h-1zM109 455h1v1h-1zM117 455h1v1h-1zM108 456h1v1h-1zM118 456h1v1h-1zM108 457h1v1h-1zM118 457h1v1h-1zM108 458h1v1h-1zM118 458h1v1h-1zM109 459h1v1h-1zM117 459h1v1h-1zM109 460h1v1h-1zM117 460h1v1h-1zM110 461h2v1h-2zM115 461h2v1h-2zM112 462h3v1h-3zM112 454h3v1h-3zM111 455h5v1h-5zM110 456h7v1h-7zM110 457h7v1h-7zM110 458h7v1h-7zM111 459h5v1h-5zM112 460h3v1h-3z" fill="#000080"/>
<path d="M112 468h3v1h2v1h1v2h1v3h-1v2h-1v1h-2v1h-3v-1h-2v-1h-1v-2h-1v-3h1v-2h1v-1h2z" fill="#fff"/>
<path d="M112 468h3v1h-3zM110 469h2v1h-2zM115 469h2v1h-2zM109 470h1v1h-1zM117 470h1v1h-1zM109 471h1v1h-1zM117 471h1v1h-1zM108 472h1v1h-1zM118 472h1v1h-1zM108 473h1v1h-1zM118 473h1v1h-1zM108 474h1v1h-1zM118 474h1v1h-1zM109 475h1v1h-1zM117 475h1v1h-1zM109 476h1v1h-1zM117 476h1v1h-1zM110 477h2v1h-2zM115 477h2v1h-2zM112 478h3v1h-3zM112 470h3v1h-3zM111 471h5v1h-5zM110 472h7v1h-7zM110 473h7v1h-7zM110 474h7v1h-7zM111 475h5v1h-5zM112 476h3v1h-3z" fill="#000080"/>
<path d="M112 484h3v1h2v1h1v2h1v3h-1v2h-1v1h-2v1h-3v-1h-2v-1h-1v-2h-1v-3h1v-2h1v-1h2z" fill="#fff"/>
<path d="M112 484h3v1h-3zM110 485h2v1h-2zM115 485h2v1h-2zM109 486h1v1h-1zM117 486h1v1h-1zM109 487h1v1h-1zM117 487h1v1h-1zM108 488h1v1h-1zM118 488h1v1h-1zM108 489h1v1h-1zM118 489h1v1h-1zM108 490h1v1h-1zM118 490h1v1h-1zM109 491h1v1h-1zM117 491h1v1h-1zM109 492h1v1h-1zM117 492h1v1h-1zM110 493h2v1h-2zM115 493h2v1h-2zM112 494h3v1h-3zM112 486h3v1h-3zM111 487h5v1h-5zM110 488h7v1h-7zM110 489h7v1h-7zM110 490h7v1h-7zM111 491h5v1h-5zM112 492h3v1h-3z" fill="#000080"/>
<path d="M112 500h3v1h2v1h1v2h1v3h-1v2h-1v1h-2v1h-3v-1h-2v-1h-1v-2h-1v-3h1v-2h1v-1h2z" fill="#fff"/>
<path d="M112 500h3v1h-3zM110 501h2v1h-2zM115 501h2v1h-2zM109 502h1v1h-1zM117 502h1v1h-1zM109 503h1v1h-1zM117 503h1v1h-1zM108 504h1v1h-1zM118 504h1v1h-1zM108 505h1v1h-1zM118 505h1v1h-1zM108 506h1v1h-1zM118 506h1v1h-1zM109 507h1v1h-1zM117 507h1v1h-1zM109 508h1v1h-1zM117 508h1v1h-1zM110 509h2v1h-2zM115 509h2v1h-2zM112 510h3v1h-3zM112 502h3v1h-3zM111 503h5v1h-5zM110 504h7v1h-7zM110 505h7v1h-7zM110 506h7v1h-7zM111 507h5v1h-5zM112 508h3v1h-3z" fill="#000080"/>
<path d="M112 517h3v1h2v1h1v2h1v3h-1v2h-1v1h-2v1h-3v-1h-2v-1h-1v-2h-1v-3h1v-2h1v-1h2z" fill="#fff"/>
<path d="M112 517h3v1h-3zM110 518h2v1h-2zM115 518h2v1h-2zM109 519h1v1h-1zM117 519h1v1h-1zM109 520h1v1h-1zM117 520h1v1h-1zM108 521h1v1h-1zM118 521h1v1h-1zM108 522h1v1h-1zM118 522h1v1h-1zM108 523h1v1h-1zM118 523h1v1h-1zM109 524h1v1h-1zM117 524h1v1h-1zM109 525h1v1h-1zM117 525h1v1h-1zM110 526h2v1h-2zM115 526h2v1h-2zM112 527h3v1h-3zM112 519h3v1h-3zM111 520h5v1h-5zM110 521h7v1h-7zM110 522h7v1h-7zM110 523h7v1h-7zM111 524h5v1h-5zM112 525h3v1h-3z" fill="#000080"/>
<path d="M112 533h3v1h2v1h1v2h1v3h-1v2h-1v1h-2v1h-3v-1h-2v-1h-1v-2h-1v-3h1v-2h1v-1h2z" fill="#fff"/>
<path d="M112 533h3v1h-3zM110 534h2v1h-2zM115 534h2v1h-2zM109 535h1v1h-1zM117 535h1v1h-1zM109 536h1v1h-1zM117 536h1v1h-1zM108 537h1v1h-1zM118 537h1v1h-1zM108 538h1v1h-1zM118 538h1v1h-1zM108 539h1v1h-1zM118 539h1v1h-1zM109 540h1v1h-1zM117 540h1v1h-1zM109 541h1v1h-1zM117 541h1v1h-1zM110 542h2v1h-2zM115 542h2v1h-2zM112 543h3v1h-3zM112 535h3v1h-3zM111 536h5v1h-5zM110 537h7v1h-7zM110 538h7v1h-7zM110 539h7v1h-7zM111 540h5v1h-5zM112 541h3v1h-3z" fill="#000080"/>
<path d="M112 549h3v1h2v1h1v2h1v3h-1v2h-1v1h-2v1h-3v-1h-2v-1h-1v-2h-1v-3h1v-2h1v-1h2z" fill="#fff"/>
<path d="M112 549h3v1h-3zM110 550h2v1h-2zM115 550h2v1h-2zM109 551h1v1h-1zM117 551h1v1h-1zM109 552h1v1h-1zM117 552h1v1h-1zM108 553h1v1h-1zM118 553h1v1h-1zM108 554h1v1h-1zM118 554h1v1h-1zM108 555h1v1h-1zM118 555h1v1h-1zM109 556h1v1h-1zM117 556h1v1h-1zM109 557h1v1h-1zM117 557h1v1h-1zM110 558h2v1h-2zM115 558h2v1h-2zM112 559h3v1h-3zM112 551h3v1h-3zM111 552h5v1h-5zM110 553h7v1h-7zM110 554h7v1h-7zM110 555h7v1h-7zM111 556h5v1h-5zM112 557h3v1h-3z" fill="#000080"/>
<path d="M112 565h3v1h2v1h1v2h1v3h-1v2h-1v1h-2v1h-3v-1h-2v-1h-1v-2h-1v-3h1v-2h1v-1h2z" fill="#fff"/>
<path d="M112 565h3v1h-3zM110 566h2v1h-2zM115 566h2v1h-2zM109 567h1v1h-1zM117 567h1v1h-1zM109 568h1v1h-1zM117 568h1v1h-1zM108 569h1v1h-1zM118 569h1v1h-1zM108 570h1v1h-1zM118 570h1v1h-1zM108 571h1v1h-1zM118 571h1v1h-1zM109 572h1v1h-1zM117 572h1v1h-1zM109 573h1v1h-1zM117 573h1v1h-1zM110 574h2v1h-2zM115 574h2v1h-2zM112 575h3v1h-3zM112 567h3v1h-3zM111 568h5v1h-5zM110 569h7v1h-7zM110 570h7v1h-7zM110 571h7v1h-7zM111 572h5v1h-5zM112 573h3v1h-3z" fill="#000080"/>
<path d="M112 582h3v1h2v1h1v2h1v3h-1v2h-1v1h-2v1h-3v-1h-2v-1h-1v-2h-1v-3h1v-2h1v-1h2z" fill="#fff"/>
<path d="M112 582h3v1h-3zM110 583h2v1h-2zM115 583h2v1h-2zM109 584h1v1h-1zM117 584h1v1h-1zM109 585h1v1h-1zM117 585h1v1h-1zM108 586h1v1h-1zM118 586h1v1h-1zM108 587h1v1h-1zM118 587h1v1h-1zM108 588h1v1h-1zM118 588h1v1h-1zM109 589h1v1h-1zM117 589h1v1h-1zM109 590h1v1h-1zM117 590h1v1h-1zM110 591h2v1h-2zM115 591h2v1h-2zM112 592h3v1h-3zM112 584h3v1h-3zM111 585h5v1h-5zM110 586h7v1h-7zM110 587h7v1h-7zM110 588h7v1h-7zM111 589h5v1h-5zM112 590h3v1h-3z" fill="#000080"/>
<path d="M112 598h3v1h2v1h1v2h1v3h-1v2h-1v1h-2v1h-3v-1h-2v-1h-1v-2h-1v-3h1v-2h1v-1h2z" fill="#fff"/>
<path d="M112 598h3v1h-3zM110 599h2v1h-2zM115 599h2v1h-2zM109 600h1v1h-1zM117 600h1v1h-1zM109 601h1v1h-1zM117 601h1v1h-1zM108 602h1v1h-1zM118 602h1v1h-1zM108 603h1v1h-1zM118 603h1v1h-1zM108 604h1v1h-1zM118 604h1v1h-1zM109 605h1v1h-1zM117 605h1v1h-1zM109 606h1v1h-1zM117 606h1v1h-1zM110 607h2v1h-2zM115 607h2v1h-2zM112 608h3v1h-3zM112 600h3v1h-3zM111 601h5v1h-5zM110 602h7v1h-7zM110 603h7v1h-7zM110 604h7v1h-7zM111 605h5v1h-5zM112 606h3v1h-3z" fill="#000080"/>
<path d="M112 614h3v1h2v1h1v2h1v3h-1v2h-1v1h-2v1h-3v-1h-2v-1h-1v-2h-1v-3h1v-2h1v-1h2z" fill="#fff"/>
<path d="M112 614h3v1h-3zM110 615h2v1h-2zM115 615h2v1h-2zM109 616h1v1h-1zM117 616h1v1h-1zM109 617h1v1h-1zM117 617h1v1h-1zM108 618h1v1h-1zM118 618h1v1h-1zM108 619h1v1h-1zM118 619h1v1h-1zM108 620h1v1h-1zM118 620h1v1h-1zM109 621h1v1h-1zM117 621h1v1h-1zM109 622h1v1h-1zM117 622h1v1h-1zM110 623h2v1h-2zM115 623h2v1h-2zM112 624h3v1h-3zM112 616h3v1h-3zM111 617h5v1h-5zM110 618h7v1h-7zM110 619h7v1h-7zM110 620h7v1h-7zM111 621h5v1h-5zM112 622h3v1h-3z" fill="#000080"/>
<path d="M112 630h3v1h2v1h1v2h1v3h-1v2h-1v1h-2v1h-3v-1h-2v-1h-1v-2h-1v-3h1v-2h1v-1h2z" fill="#fff"/>
<path d="M112 630h3v1h-3zM110 631h2v1h-2zM115 631h2v1h-2zM109 632h1v1h-1zM117 632h1v1h-1zM109 633h1v1h-1zM117 633h1v1h-1zM108 634h1v1h-1zM118 634h1v1h-1zM108 635h1v1h-1zM118 635h1v1h-1zM108 636h1v1h-1zM118 636h1v1h-1zM109 637h1v1h-1zM117 637h1v1h-1zM109 638h1v1h-1zM117 638h1v1h-1zM110 639h2v1h-2zM115 639h2v1h-2zM112 640h3v1h-3zM112 632h3v1h-3zM111 633h5v1h-5zM110 634h7v1h-7zM110 635h7v1h-7zM110 636h7v1h-7zM111 637h5v1h-5zM112 638h3v1h-3z" fill="#000080"/>
<path d="M112 647h3v1h2v1h1v2h1v3h-1v2h-1v1h-2v1h-3v-1h-2v-1h-1v-2h-1v-3h1v-2h1v-1h2z" fill="#fff"/>
<path d="M112 647h3v1h-3zM110 648h2v1h-2zM115 648h2v1h-2zM109 649h1v1h-1zM117 649h1v1h-1zM109 650h1v1h-1zM117 650h1v1h-1zM108 651h1v1h-1zM118 651h1v1h-1zM108 652h1v1h-1zM118 652h1v1h-1zM108 653h1v1h-1zM118 653h1v1h-1zM109 654h1v1h-1zM117 654h1v1h-1zM109 655h1v1h-1zM117 655h1v1h-1zM110 656h2v1h-2zM115 656h2v1h-2zM112 657h3v1h-3zM112 649h3v1h-3zM111 650h5v1h-5zM110 651h7v1h-7zM110 652h7v1h-7zM110 653h7v1h-7zM111 654h5v1h-5zM112 655h3v1h-3z" fill="#000080"/>
<path d="M112 663h3v1h2v1h1v2h1v3h-1v2h-1v1h-2v1h-3v-1h-2v-1h-1v-2h-1v-3h1v-2h1v-1h2z" fill="#fff"/>
<path d="M112 663h3v1h-3zM110 664h2v1h-2zM115 664h2v1h-2zM109 665h1v1h-1zM117 665h1v1h-1zM109 666h1v1h-1zM117 666h1v1h-1zM108 667h1v1h-1zM118 667h1v1h-1zM108 668h1v1h-1zM118 668h1v1h-1zM108 669h1v1h-1zM118 669h1v1h-1zM109 670h1v1h-1zM117 670h1v1h-1zM109 671h1v1h-1zM117 671h1v1h-1zM110 672h2v1h-2zM115 672h2v1h-2zM112 673h3v1h-3zM112 665h3v1h-3zM111 666h5v1h-5zM110 667h7v1h-7zM110 668h7v1h-7zM110 669h7v1h-7zM111 670h5v1h-5zM112 671h3v1h-3z" fill="#000080"/>
<path d="M112 679h3v1h2v1h1v2h1v3h-1v2h-1v1h-2v1h-3v-1h-2v-1h-1v-2h-1v-3h1v-2h1v-1h2z" fill="#fff"/>
<path d="M112 679h3v1h-3zM110 680h2v1h-2zM115 680h2v1h-2zM109 681h1v1h-1zM117 681h1v1h-1zM109 682h1v1h-1zM117 682h1v1h-1zM108 683h1v1h-1zM118 683h1v1h-1zM108 684h1v1h-1zM118 684h1v1h-1zM108 685h1v1h-1zM118 685h1v1h-1zM109 686h1v1h-1zM117 686h1v1h-1zM109 687h1v1h-1zM117 687h1v1h-1zM110 688h2v1h-2zM115 688h2v1h-2zM112 689h3v1h-3zM112 681h3v1h-3zM111 682h5v1h-5zM110 683h7v1h-7zM110 684h7v1h-7zM110 685h7v1h-7zM111 686h5v1h-5zM112 687h3v1h-3z" fill="#000080"/>
<path d="M112 695h3v1h2v1h1v2h1v3h-1v2h-1v1h-2v1h-3v-1h-2v-1h-1v-2h-1v-3h1v-2h1v-1h2z" fill="#fff"/>
<path d="M112 695h3v1h-3zM110 696h2v1h-2zM115 696h2v1h-2zM109 697h1v1h-1zM117 697h1v1h-1zM109 698h1v1h-1zM117 698h1v1h-1zM108 699h1v1h-1zM118 699h1v1h-1zM108 700h1v1h-1zM118 700h1v1h-1zM108 701h1v1h-1zM118 701h1v1h-1zM109 702h1v1h-1zM117 702h1v1h-1zM109 703h1v1h-1zM117 703h1v1h-1zM110 704h2v1h-2zM115 704h2v1h-2zM112 705h3v1h-3zM112 697h3v1h-3zM111 698h5v1h-5zM110 699h7v1h-7zM110 700h7v1h-7zM110 701h7v1h-7zM111 702h5v1h-5zM112 703h3v1h-3z" fill="#000080"/>
<path d="M112 712h3v1h2v1h1v2h1v3h-1v2h-1v1h-2v1h-3v-1h-2v-1h-1v-2h-1v-3h1v-2h1v-1h2z" fill="#fff"/>
<path d="M112 712h3v1h-3zM110 713h2v1h-2zM115 713h2v1h-2zM109 714h1v1h-1zM117 714h1v1h-1zM109 715h1v1h-1zM117 715h1v1h-1zM108 716h1v1h-1zM118 716h1v1h-1zM108 717h1v1h-1zM118 717h1v1h-1zM108 718h1v1h-1zM118 718h1v1h-1zM109 719h1v1h-1zM117 719h1v1h-1zM109 720h1v1h-1zM117 720h1v1h-1zM110 721h2v1h-2zM115 721h2v1h-2zM112 722h3v1h-3zM112 714h3v1h-3zM111 715h5v1h-5zM110 716h7v1h-7zM110 717h7v1h-7zM110 718h7v1h-7zM111 719h5v1h-5zM112 720h3v1h-3z" fill="#000080"/>
<path d="M112 762h3v1h2v1h1v2h1v3h-1v2h-1v1h-2v1h-3v-1h-2v-1h-1v-2h-1v-3h1v-2h1v-1h2z" fill="#fff"/>
<path d="M112 762h3v1h-3zM110 763h2v1h-2zM115 763h2v1h-2zM109 764h1v1h-1zM117 764h1v1h-1zM109 765h1v1h-1zM117 765h1v1h-1zM108 766h1v1h-1zM118 766h1v1h-1zM108 767h1v1h-1zM118 767h1v1h-1zM108 768h1v1h-1zM118 768h1v1h-1zM109 769h1v1h-1zM117 769h1v1h-1zM109 770h1v1h-1zM117 770h1v1h-1zM110 771h2v1h-2zM115 771h2v1h-2zM112 772h3v1h-3zM112 764h3v1h-3zM111 765h5v1h-5zM110 766h7v1h-7zM110 767h7v1h-7zM110 768h7v1h-7zM111 769h5v1h-5zM112 770h3v1h-3z" fill="#000080"/>
<path d="M112 779h3v1h2v1h1v2h1v3h-1v2h-1v1h-2v1h-3v-1h-2v-1h-1v-2h-1v-3h1v-2h1v-1h2z" fill="#fff"/>
<path d="M112 779h3v1h-3zM110 780h2v1h-2zM115 780h2v1h-2zM109 781h1v1h-1zM117 781h1v1h-1zM109 782h1v1h-1zM117 782h1v1h-1zM108 783h1v1h-1zM118 783h1v1h-1zM108 784h1v1h-1zM118 784h1v1h-1zM108 785h1v1h-1zM118 785h1v1h-1zM109 786h1v1h-1zM117 786h1v1h-1zM109 787h1v1h-1zM117 787h1v1h-1zM110 788h2v1h-2zM115 788h2v1h-2zM112 789h3v1h-3zM112 781h3v1h-3zM111 782h5v1h-5zM110 783h7v1h-7zM110 784h7v1h-7zM110 785h7v1h-7zM111 786h5v1h-5zM112 787h3v1h-3z" fill="#000080"/>
<path d="M112 796h3v1h2v1h1v2h1v3h-1v2h-1v1h-2v1h-3v-1h-2v-1h-1v-2h-1v-3h1v-2h1v-1h2z" fill="#fff"/>
<path d="M112 796h3v1h-3zM110 797h2v1h-2zM115 797h2v1h-2zM109 798h1v1h-1zM117 798h1v1h-1zM109 799h1v1h-1zM117 799h1v1h-1zM108 800h1v1h-1zM118 800h1v1h-1zM108 801h1v1h-1zM118 801h1v1h-1zM108 802h1v1h-1zM118 802h1v1h-1zM109 803h1v1h-1zM117 803h1v1h-1zM109 804h1v1h-1zM117 804h1v1h-1zM110 805h2v1h-2zM115 805h2v1h-2zM112 806h3v1h-3zM112 798h3v1h-3zM111 799h5v1h-5zM110 800h7v1h-7zM110 801h7v1h-7zM110 802h7v1h-7zM111 803h5v1h-5zM112 804h3v1h-3z" fill="#000080"/>
<path d="M112 813h3v1h2v1h1v2h1v3h-1v2h-1v1h-2v1h-3v-1h-2v-1h-1v-2h-1v-3h1v-2h1v-1h2z" fill="#fff"/>
<path d="M112 813h3v1h-3zM110 814h2v1h-2zM115 814h2v1h-2zM109 815h1v1h-1zM117 815h1v1h-1zM109 816h1v1h-1zM117 816h1v1h-1zM108 817h1v1h-1zM118 817h1v1h-1zM108 818h1v1h-1zM118 818h1v1h-1zM108 819h1v1h-1zM118 819h1v1h-1zM109 820h1v1h-1zM117 820h1v1h-1zM109 821h1v1h-1zM117 821h1v1h-1zM110 822h2v1h-2zM115 822h2v1h-2zM112 823h3v1h-3zM112 815h3v1h-3zM111 816h5v1h-5zM110 817h7v1h-7zM110 818h7v1h-7zM110 819h7v1h-7zM111 820h5v1h-5zM112 821h3v1h-3z" fill="#000080"/>
<path d="M112 822h3v1h2v1h1v2h1v3h-1v2h-1v1h-2v1h-3v-1h-2v-1h-1v-2h-1v-3h1v-2h1v-1h2z" fill="#fff"/>
<path d="M112 822h3v1h-3zM110 823h2v1h-2zM115 823h2v1h-2zM109 824h1v1h-1zM117 824h1v1h-1zM109 825h1v1h-1zM117 825h1v1h-1zM108 826h1v1h-1zM118 826h1v1h-1zM108 827h1v1h-1zM118 827h1v1h-1zM108 828h1v1h-1zM118 828h1v1h-1zM109 829h1v1h-1zM117 829h1v1h-1zM109 830h1v1h-1zM117 830h1v1h-1zM110 831h2v1h-2zM115 831h2v1h-2zM112 832h3v1h-3zM112 824h3v1h-3zM111 825h5v1h-5zM110 826h7v1h-7zM110 827h7v1h-7zM110 828h7v1h-7zM111 829h5v1h-5zM112 830h3v1h-3z" fill="#000080"/>
<path d="M1817 320h1v1h-1zM1819 320h8v1h-8zM1828 320h1v1h-1zM1816 321h1v1h-1zM1820 321h6v1h-6zM1827 321h1v1h-1zM1814 322h4v1h-4zM1821 322h3v1h-3zM1826 322h1v1h-1z" fill="#000080"/>
<path d="M1818 337h1v1h-1zM1820 337h6v1h-6zM1827 337h2v1h-2zM1818 338h1v1h-1zM1821 338h4v1h-4zM1826 338h2v1h-2z" fill="#000080"/>
<path d="M1817 353h1v1h-1zM1819 353h8v1h-8zM1828 353h1v1h-1zM1816 354h1v1h-1zM1820 354h6v1h-6zM1827 354h1v1h-1zM1814 355h4v1h-4zM1821 355h3v1h-3zM1826 355h1v1h-1z" fill="#000080"/>
<path d="M1818 370h1v1h-1zM1820 370h6v1h-6zM1827 370h2v1h-2zM1818 371h1v1h-1zM1821 371h4v1h-4zM1826 371h2v1h-2z" fill="#000080"/>
<path d="M1817 386h1v1h-1zM1819 386h8v1h-8zM1828 386h1v1h-1zM1816 387h1v1h-1zM1820 387h6v1h-6zM1827 387h1v1h-1zM1814 388h4v1h-4zM1821 388h3v1h-3zM1826 388h1v1h-1z" fill="#000080"/>
<path d="M1817 403h1v1h-1zM1819 403h8v1h-8zM1828 403h1v1h-1zM1816 404h1v1h-1zM1820 404h6v1h-6zM1827 404h1v1h-1zM1814 405h4v1h-4zM1821 405h3v1h-3zM1826 405h1v1h-1z" fill="#000080"/>
<path d="M1818 420h1v1h-1zM1820 420h6v1h-6zM1827 420h2v1h-2zM1818 421h1v1h-1zM1821 421h4v1h-4zM1826 421h2v1h-2z" fill="#000080"/>
<path d="M1817 436h1v1h-1zM1819 436h8v1h-8zM1828 436h1v1h-1zM1816 437h1v1h-1zM1820 437h6v1h-6zM1827 437h1v1h-1zM1814 438h4v1h-4zM1821 438h3v1h-3zM1826 438h1v1h-1z" fill="#000080"/>
<path d="M1817 453h1v1h-1zM1819 453h8v1h-8zM1828 453h1v1h-1zM1816 454h1v1h-1zM1820 454h6v1h-6zM1827 454h1v1h-1zM1814 455h4v1h-4zM1821 455h3v1h-3zM1826 455h1v1h-1z" fill="#000080"/>
<path d="M1817 470h1v1h-1zM1819 470h8v1h-8zM1828 470h1v1h-1zM1816 471h1v1h-1zM1820 471h6v1h-6zM1827 471h1v1h-1zM1814 472h4v1h-4zM1821 472h3v1h-3zM1826 472h1v1h-1z" fill="#000080"/>
<path d="M1817 487h1v1h-1zM1819 487h8v1h-8zM1828 487h1v1h-1zM1816 488h1v1h-1zM1820 488h6v1h-6zM1827 488h1v1h-1zM1814 489h4v1h-4zM1821 489h3v1h-3zM1826 489h1v1h-1z" fill="#000080"/>
<path d="M1817 504h1v1h-1zM1819 504h8v1h-8zM1828 504h1v1h-1zM1816 505h1v1h-1zM1820 505h6v1h-6zM1827 505h1v1h-1zM1814 506h4v1h-4zM1821 506h3v1h-3zM1826 506h1v1h-1z" fill="#000080"/>
<path d="M1817 521h1v1h-1zM1819 521h8v1h-8zM1828 521h1v1h-1zM1816 522h1v1h-1zM1820 522h6v1h-6zM1827 522h1v1h-1zM1814 523h4v1h-4zM1821 523h3v1h-3zM1826 523h1v1h-1z" fill="#000080"/>
<path d="M1817 538h1v1h-1zM1819 538h8v1h-8zM1828 538h1v1h-1zM1816 539h1v1h-1zM1820 539h6v1h-6zM1827 539h1v1h-1zM1814 540h4v1h-4zM1821 540h3v1h-3zM1826 540h1v1h-1z" fill="#000080"/>
<path d="M1818 555h1v1h-1zM1820 555h6v1h-6zM1827 555h2v1h-2zM1818 556h1v1h-1zM1821 556h4v1h-4zM1826 556h2v1h-2z" fill="#000080"/>
<path d="M1818 571h1v1h-1zM1820 571h6v1h-6zM1827 571h2v1h-2zM1818 572h1v1h-1zM1821 572h4v1h-4zM1826 572h2v1h-2z" fill="#000080"/>
<path d="M1818 587h1v1h-1zM1820 587h6v1h-6zM1827 587h2v1h-2zM1818 588h1v1h-1zM1821 588h4v1h-4zM1826 588h2v1h-2z" fill="#000080"/>
<path d="M1818 603h1v1h-1zM1820 603h6v1h-6zM1827 603h2v1h-2zM1818 604h1v1h-1zM1821 604h4v1h-4zM1826 604h2v1h-2z" fill="#000080"/>
<path d="M1818 619h1v1h-1zM1820 619h6v1h-6zM1827 619h2v1h-2zM1818 620h1v1h-1zM1821 620h4v1h-4zM1826 620h2v1h-2z" fill="#000080"/>
<path d="M1818 635h1v1h-1zM1820 635h6v1h-6zM1827 635h2v1h-2zM1818 636h1v1h-1zM1821 636h4v1h-4zM1826 636h2v1h-2z" fill="#000080"/>
<path d="M1817 651h1v1h-1zM1819 651h8v1h-8zM1828 651h1v1h-1zM1816 652h1v1h-1zM1820 652h6v1h-6zM1827 652h1v1h-1zM1814 653h4v1h-4zM1821 653h3v1h-3zM1826 653h1v1h-1z" fill="#000080"/>
<path d="M1818 668h1v1h-1zM1820 668h6v1h-6zM1827 668h2v1h-2zM1818 669h1v1h-1zM1821 669h4v1h-4zM1826 669h2v1h-2z" fill="#000080"/>
<path d="M1818 684h1v1h-1zM1820 684h6v1h-6zM1827 684h2v1h-2zM1818 685h1v1h-1zM1821 685h4v1h-4zM1826 685h2v1h-2z" fill="#000080"/>
<path d="M1818 700h1v1h-1zM1820 700h6v1h-6zM1827 700h2v1h-2zM1818 701h1v1h-1zM1821 701h4v1h-4zM1826 701h2v1h-2z" fill="#000080"/>
<path d="M1818 716h1v1h-1zM1820 716h6v1h-6zM1827 716h2v1h-2zM1818 717h1v1h-1zM1821 717h4v1h-4zM1826 717h2v1h-2z" fill="#000080"/>
<path d="M1818 732h1v1h-1zM1820 732h6v1h-6zM1827 732h2v1h-2zM1818 733h1v1h-1zM1821 733h4v1h-4zM1826 733h2v1h-2z" fill="#000080"/>
<path d="M1818 748h1v1h-1zM1820 748h6v1h-6zM1827 748h2v1h-2zM1818 749h1v1h-1zM1821 749h4v1h-4zM1826 749h2v1h-2z" fill="#000080"/>
<path d="M1818 764h1v1h-1zM1820 764h6v1h-6zM1827 764h2v1h-2zM1818 765h1v1h-1zM1821 765h4v1h-4zM1826 765h2v1h-2z" fill="#000080"/>
<path d="M1818 780h1v1h-1zM1820 780h6v1h-6zM1827 780h2v1h-2zM1818 781h1v1h-1zM1821 781h4v1h-4zM1826 781h2v1h-2z" fill="#000080"/>
<path d="M1818 796h1v1h-1zM1820 796h6v1h-6zM1827 796h2v1h-2zM1818 797h1v1h-1zM1821 797h4v1h-4zM1826 797h2v1h-2z" fill="#000080"/>
<path d="M1817 812h1v1h-1zM1819 812h8v1h-8zM1828 812h1v1h-1zM1816 813h1v1h-1zM1820 813h6v1h-6zM1827 813h1v1h-1zM1814 814h4v1h-4zM1821 814h3v1h-3zM1826 814h1v1h-1z" fill="#000080"/>
<path d="M1821 815h3v1h2v1h1v2h1v3h-1v2h-1v1h-2v1h-3v-1h-2v-1h-1v-2h-1v-3h1v-2h1v-1h2z" fill="#fff"/>
<path d="M1821 815h3v1h-3zM1819 816h2v1h-2zM1824 816h2v1h-2zM1818 817h1v1h-1zM1826 817h1v1h-1zM1818 818h1v1h-1zM1826 818h1v1h-1zM1817 819h1v1h-1zM1827 819h1v1h-1zM1817 820h1v1h-1zM1827 820h1v1h-1zM1817 821h1v1h-1zM1827 821h1v1h-1zM1818 822h1v1h-1zM1826 822h1v1h-1zM1818 823h1v1h-1zM1826 823h1v1h-1zM1819 824h2v1h-2zM1824 824h2v1h-2zM1821 825h3v1h-3zM1821 817h3v1h-3zM1820 818h5v1h-5zM1819 819h7v1h-7zM1819 820h7v1h-7zM1819 821h7v1h-7zM1820 822h5v1h-5zM1821 823h3v1h-3z" fill="#000080"/>
<path d="M1821 822h3v1h2v1h1v2h1v3h-1v2h-1v1h-2v1h-3v-1h-2v-1h-1v-2h-1v-3h1v-2h1v-1h2z" fill="#fff"/>
<path d="M1821 822h3v1h-3zM1819 823h2v1h-2zM1824 823h2v1h-2zM1818 824h1v1h-1zM1826 824h1v1h-1zM1818 825h1v1h-1zM1826 825h1v1h-1zM1817 826h1v1h-1zM1827 826h1v1h-1zM1817 827h1v1h-1zM1827 827h1v1h-1zM1817 828h1v1h-1zM1827 828h1v1h-1zM1818 829h1v1h-1zM1826 829h1v1h-1zM1818 830h1v1h-1zM1826 830h1v1h-1zM1819 831h2v1h-2zM1824 831h2v1h-2zM1821 832h3v1h-3zM1821 824h3v1h-3zM1820 825h5v1h-5zM1819 826h7v1h-7zM1819 827h7v1h-7zM1819 828h7v1h-7zM1820 829h5v1h-5zM1821 830h3v1h-3z" fill="#000080"/>
</svg>
<div id="legend">
<div class="lt" style="top:7.5px">Excess Pore Pressure</div>
<div class="lt" style="top:23px">min (stage): -86.05 kPa</div>
<div class="sw" style="top:41px;height:14px;background:#0000ff"></div>
<div class="sw" style="top:56px;height:14px;background:#0033ff"></div>
<div class="sw" style="top:71px;height:14px;background:#0066ff"></div>
<div class="sw" style="top:86px;height:14px;background:#0099ff"></div>
<div class="sw" style="top:101px;height:14px;background:#00ccff"></div>
<div class="sw" style="top:116px;height:14px;background:#00ffff"></div>
<div class="sw" style="top:131px;height:14px;background:#00ffcc"></div>
<div class="sw" style="top:146px;height:14px;background:#00ff99"></div>
<div class="sw" style="top:161px;height:14px;background:#00ff66"></div>
<div class="sw" style="top:176px;height:14px;background:#00ff33"></div>
<div class="sw" style="top:191px;height:14px;background:#00ff00"></div>
<div class="sw" style="top:206px;height:14px;background:#33ff00"></div>
<div class="sw" style="top:221px;height:14px;background:#66ff00"></div>
<div class="sw" style="top:236px;height:14px;background:#99ff00"></div>
<div class="sw" style="top:251px;height:14px;background:#ccff00"></div>
<div class="sw" style="top:266px;height:14px;background:#ffff00"></div>
<div class="sw" style="top:281px;height:14px;background:#ffcc00"></div>
<div class="sw" style="top:296px;height:14px;background:#ff9900"></div>
<div class="sw" style="top:311px;height:14px;background:#ff6600"></div>
<div class="sw" style="top:326px;height:15px;background:#ff0000"></div>
<div class="lv" style="top:36.40px">-87.00</div>
<div class="lv" style="top:51.40px">-80.95</div>
<div class="lv" style="top:66.40px">-74.90</div>
<div class="lv" style="top:81.40px">-68.85</div>
<div class="lv" style="top:96.40px">-62.80</div>
<div class="lv" style="top:111.40px">-56.75</div>
<div class="lv" style="top:126.40px">-50.70</div>
<div class="lv" style="top:141.40px">-44.65</div>
<div class="lv" style="top:156.40px">-38.60</div>
<div class="lv" style="top:171.40px">-32.55</div>
<div class="lv" style="top:186.40px">-26.50</div>
<div class="lv" style="top:201.40px">-20.45</div>
<div class="lv" style="top:216.40px">-14.40</div>
<div class="lv" style="top:231.40px">-8.35</div>
<div class="lv" style="top:246.40px">-2.30</div>
<div class="lv" style="top:261.40px">3.75</div>
<div class="lv" style="top:276.40px">9.80</div>
<div class="lv" style="top:291.40px">15.85</div>
<div class="lv" style="top:306.40px">21.90</div>
<div class="lv" style="top:321.40px">27.95</div>
<div class="lv" style="top:336.40px">34.00</div>
<div class="lt" style="top:352px">max (stage): 33.73 kPa</div>
</div>
<div class="abs" style="left:952px;top:293px;width:26px;height:18px;border:1px solid #000;background:#fff;font-size:10px;line-height:18px;text-align:center;color:#111">3.75</div>
<svg width="40" height="70" viewBox="1850 15 40 70" shape-rendering="crispEdges" style="position:absolute;left:1850px;top:15px">
<rect x="1854.5" y="47.5" width="14" height="28" fill="#fff" stroke="#000080" stroke-width="1"/>
<rect x="1861" y="20" width="1" height="27" fill="#000080"/>
<path d="M1858 40 h7 v2 h-1 v2 h-1 v2 h-1 v1 h-1 v-1 h-1 v-2 h-1 v-2 h-1 z" fill="#000080"/>
<rect x="1871" y="61" width="11" height="1" fill="#000080"/>
<path d="M1872 54 v15 h-1 v-2 h-1 v-3 h-1 v-5 h1 v-3 h1 v-2 z" fill="#000080"/>
</svg>
<div class="abs" style="left:0;top:983px;width:1914px;height:1px;background:#e3e3e3"></div>
<div class="abs" style="left:0;top:984px;width:1914px;height:1px;background:#fafafa"></div>
<div class="abs" style="left:0;top:985px;width:1914px;height:22px;background:#f0f0f0"></div>
<svg width="1914" height="22" viewBox="0 985 1914 22" style="position:absolute;left:0;top:985px">
<polygon points="387.5,985 396,1002.5 531.3,1002.5 539.8,985" fill="#fff"/>
<rect x="0" y="985" width="388" height="1" fill="#000" shape-rendering="crispEdges"/>
<rect x="540" y="985" width="1374" height="1" fill="#000" shape-rendering="crispEdges"/>
<line x1="105.0" y1="985.5" x2="113.5" y2="1002.5" stroke="#000" stroke-width="1"/>
<line x1="241.3" y1="1002.5" x2="246.4" y2="992.3" stroke="#000" stroke-width="1"/>
<line x1="113.5" y1="1002.5" x2="241.3" y2="1002.5" stroke="#000" stroke-width="1"/>
<line x1="243.0" y1="985.5" x2="251.5" y2="1002.5" stroke="#000" stroke-width="1"/>
<line x1="386.3" y1="1002.5" x2="391.1" y2="992.8" stroke="#000" stroke-width="1"/>
<line x1="251.5" y1="1002.5" x2="386.3" y2="1002.5" stroke="#000" stroke-width="1"/>
<line x1="387.5" y1="985.5" x2="396.0" y2="1002.5" stroke="#000" stroke-width="1"/>
<line x1="531.3" y1="1002.5" x2="539.8" y2="985.5" stroke="#000" stroke-width="1"/>
<line x1="396.0" y1="1002.5" x2="531.3" y2="1002.5" stroke="#000" stroke-width="1"/>
<line x1="536.4" y1="992.3" x2="541.5" y2="1002.5" stroke="#000" stroke-width="1"/>
<line x1="676.2" y1="1002.5" x2="681.4" y2="992.1" stroke="#000" stroke-width="1"/>
<line x1="541.5" y1="1002.5" x2="676.2" y2="1002.5" stroke="#000" stroke-width="1"/>
<line x1="678.1" y1="985.5" x2="686.6" y2="1002.5" stroke="#000" stroke-width="1"/>
<line x1="821.3" y1="1002.5" x2="826.5" y2="992.2" stroke="#000" stroke-width="1"/>
<line x1="686.6" y1="1002.5" x2="821.3" y2="1002.5" stroke="#000" stroke-width="1"/>
<line x1="823.1" y1="985.5" x2="831.6" y2="1002.5" stroke="#000" stroke-width="1"/>
<line x1="966.3" y1="1002.5" x2="971.5" y2="992.2" stroke="#000" stroke-width="1"/>
<line x1="831.6" y1="1002.5" x2="966.3" y2="1002.5" stroke="#000" stroke-width="1"/>
<line x1="968.1" y1="985.5" x2="976.6" y2="1002.5" stroke="#000" stroke-width="1"/>
<line x1="1111.3" y1="1002.5" x2="1119.8" y2="985.5" stroke="#000" stroke-width="1"/>
<line x1="976.6" y1="1002.5" x2="1111.3" y2="1002.5" stroke="#000" stroke-width="1"/>
</svg>
<div class="tt" style="left:122.6px;width:109.5px"><span id="tt0">2. Stage 2 (1 d) (r)</span></div>
<div class="tt" style="left:260.5px;width:116.3px"><span id="tt1">3. Stage 3 (10 d) (r)</span></div>
<div class="tt b" style="left:398.7px;width:129.8px"><span id="tt2">4. Stage 4 (20 d) (r)</span></div>
<div class="tt" style="left:550.6px;width:116.2px"><span id="tt3">5. Stage 5 (60 d) (r)</span></div>
<div class="tt" style="left:695.6px;width:116.2px"><span id="tt4">6. Stage 6 (61 d) (r)</span></div>
<div class="tt" style="left:840.6px;width:116.2px"><span id="tt5">7. Stage 7 (62 d) (r)</span></div>
<div class="tt" style="left:985.6px;width:116.2px"><span id="tt6">8. Stage 8 (65 d) (r)</span></div>
<div class="nb" style="left:0px"></div>
<div class="nb" style="left:21px"></div>
<div class="nb" style="left:42px"></div>
<div class="nb" style="left:63px"></div>
<div class="nb" style="left:84px"></div>
<svg width="104" height="18" viewBox="0 986 104 18" style="position:absolute;left:0;top:986px">
<rect x="6" y="990" width="1.2" height="9" fill="#000"/><polygon points="8,994.5 13,990 13,999" fill="#000"/>
<polygon points="27.5,994.5 33,990 33,999" fill="#000"/>
<polygon points="70,990 70,999 75.5,994.5" fill="#000"/>
<polygon points="90,990 90,999 95,994.5" fill="#000"/><rect x="96" y="990" width="1.2" height="9" fill="#000"/>
</svg>
<div class="hash">#</div>
<div class="abs" style="left:1768px;top:1006px;width:134px;height:1px;background:#808080"></div>
</body></html>
